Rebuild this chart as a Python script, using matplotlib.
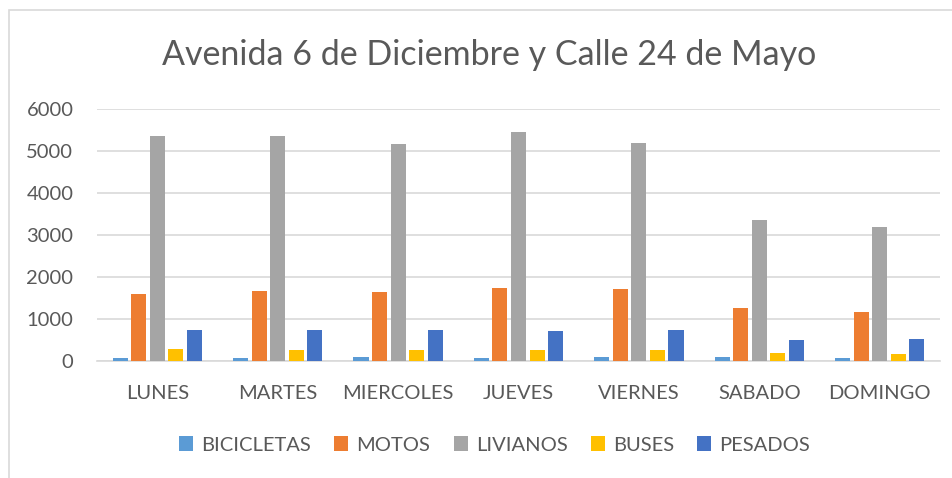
import matplotlib.pyplot as plt
import numpy as np
from matplotlib.patches import Rectangle

plt.rcParams['font.family'] = ['Lato', 'DejaVu Sans']

# Data
dias = ["LUNES", "MARTES", "MIERCOLES", "JUEVES", "VIERNES", "SABADO", "DOMINGO"]
bicicletas = [70, 70, 87, 80, 103, 87, 80]
motos = [1603, 1659, 1635, 1746, 1706, 1254, 1159]
livianos = [5349, 5365, 5167, 5452, 5190, 3349, 3198]
buses = [278, 254, 262, 262, 262, 183, 159]
pesados = [746, 730, 730, 706, 746, 500, 516]

series = ["BICICLETAS", "MOTOS", "LIVIANOS", "BUSES", "PESADOS"]
colores = ["#5B9BD5", "#ED7D31", "#A5A5A5", "#FFC000", "#4472C4"]
valores = [bicicletas, motos, livianos, buses, pesados]

fig = plt.figure(figsize=(9.53, 4.78), dpi=100)
ax = fig.add_axes([97 / 953, 1 - 361 / 478, (940 - 97) / 953, (361 - 109) / 478])

x = np.arange(len(dias))
paso = 0.154
ancho = 0.125
for i, (nombre, vals, c) in enumerate(zip(series, valores, colores)):
    ax.bar(x + (i - 2) * paso, vals, ancho, color=c, label=nombre, zorder=3)

ax.set_xlim(-0.5, len(dias) - 0.5)
ax.set_ylim(0, 6000)
ax.set_yticks(range(0, 6001, 1000))
ax.set_xticks(x)
ax.set_xticklabels(dias)
ax.grid(axis="y", color="#d9d9d9", linewidth=1.2, zorder=0)
for s in ["top", "right", "left"]:
    ax.spines[s].set_visible(False)
ax.spines["bottom"].set_color("#d9d9d9")
ax.spines["bottom"].set_linewidth(1.2)
ax.tick_params(axis="both", length=0, labelsize=14.5, colors="#595959")
ax.tick_params(axis="x", pad=17)
ax.tick_params(axis="y", pad=17)

fig.text(0.513, 1 - 55 / 478, "Avenida 6 de Diciembre y Calle 24 de Mayo",
         ha="center", va="center", fontsize=24.5, color="#595959")

fig.legend(loc="center", bbox_to_anchor=(0.519, 1 - 445 / 478), ncol=5, frameon=False,
           fontsize=14.5, labelcolor="#595959", handlelength=0.7, handleheight=0.7,
           handletextpad=0.4, columnspacing=1.15)

# chart border
fig.patches.append(Rectangle((9 / 953, -0.1), 1.2, 1.1 - 10.5 / 478, transform=fig.transFigure,
                             fill=False, edgecolor="#d9d9d9", linewidth=1.2))

fig.savefig("out.png", dpi=100)
